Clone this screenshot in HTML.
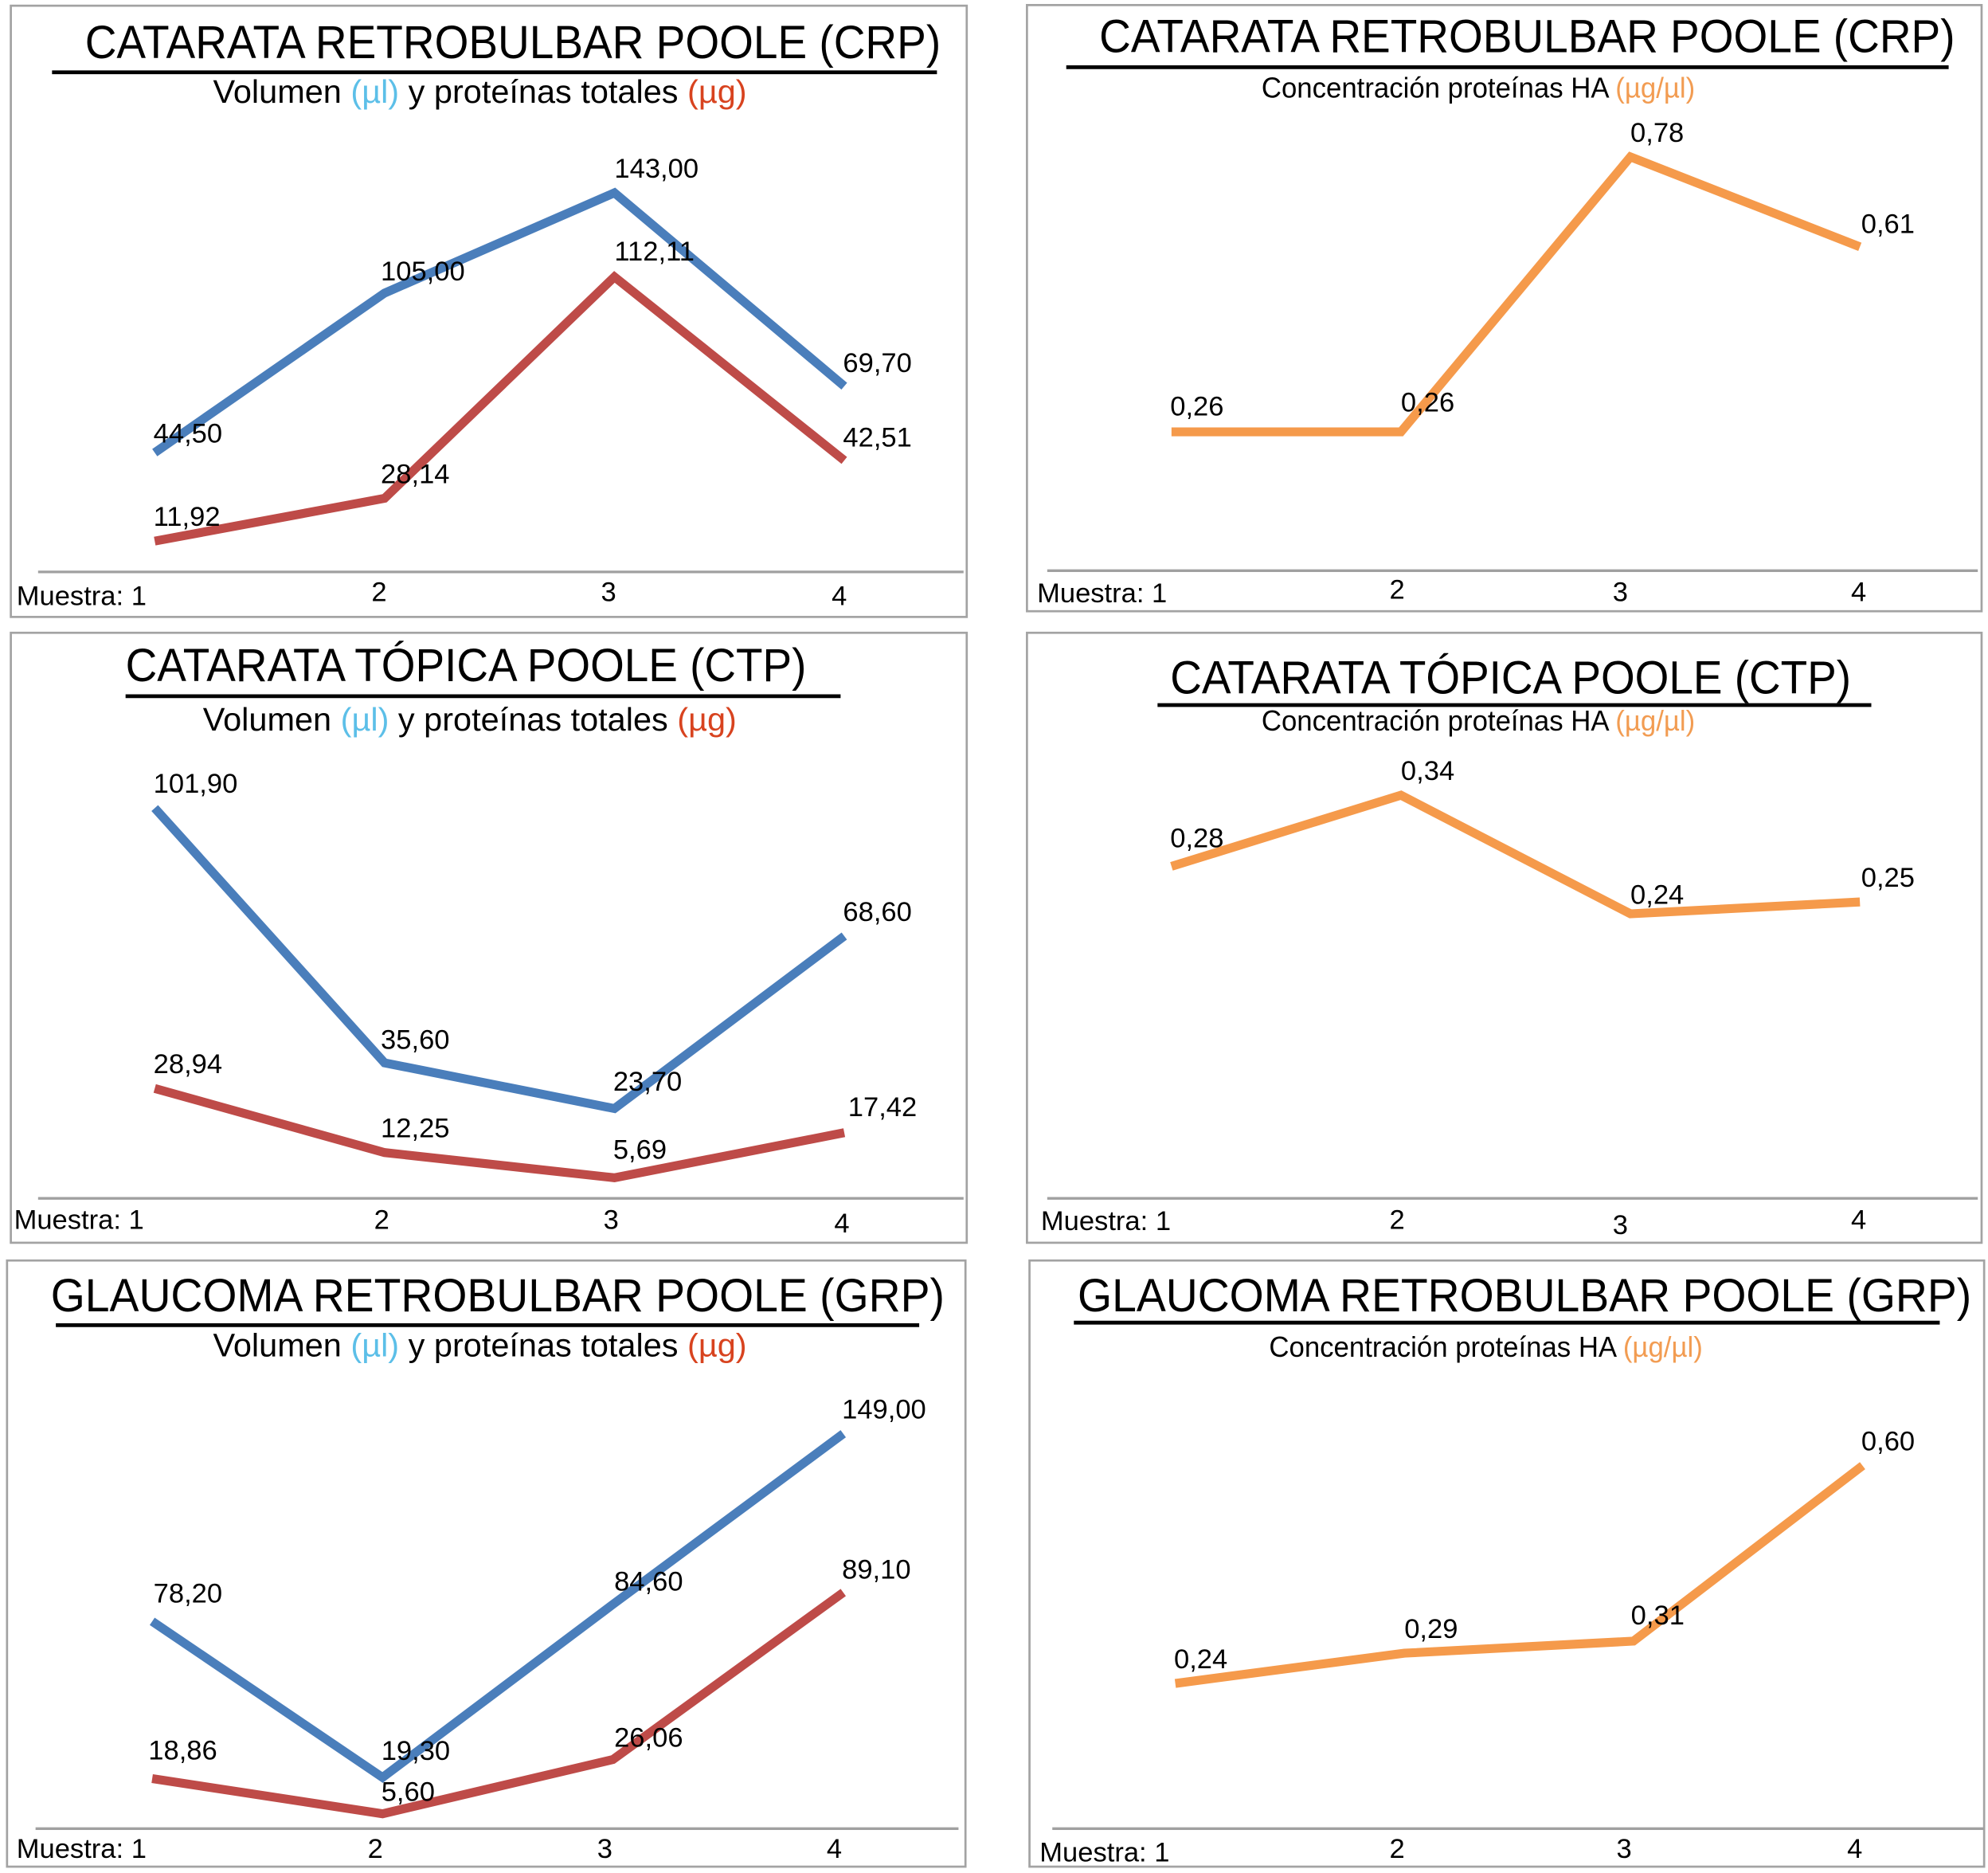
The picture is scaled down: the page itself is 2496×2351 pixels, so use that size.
<!DOCTYPE html>
<html lang="es">
<head>
<meta charset="utf-8">
<title>Volumen, proteínas totales y concentración de proteínas HA</title>
<style>
html,body{margin:0;padding:0;background:#fff;}
svg{display:block;width:2496px;height:2351px;}
text{font-family:"Liberation Sans",Arial,sans-serif;fill:#000;}
.frame{fill:#fff;stroke:#a3a3a3;stroke-width:1.7;}
.rule{stroke:#000;stroke-width:3;}
.axis{stroke:#a0a0a0;stroke-width:2.1;}
.title{font-size:36.5px;}
.sub{font-size:25.5px;}
.subc{font-size:22.5px;}
.tick,.val{font-size:21.7px;}
.cb{fill:#5cbfe8;}
.cr{fill:#d8431f;}
.co{fill:#f29c52;}
</style>
</head>
<body>
<svg id="figure" xmlns="http://www.w3.org/2000/svg" viewBox="0 0 1568 1477">

<g id="p-crp-v">
<rect class="frame" x="8.5" y="4.5" width="754" height="482"/>
<text class="title" x="67" y="46" textLength="675" lengthAdjust="spacingAndGlyphs">CATARATA RETROBULBAR POOLE (CRP)</text>
<line class="rule" x1="41" y1="57" x2="739" y2="57"/>
<text class="sub" x="168" y="81" textLength="421" lengthAdjust="spacingAndGlyphs">Volumen <tspan class="cb">(µl)</tspan> y proteínas totales <tspan class="cr">(µg)</tspan></text>
<line class="axis" x1="30" y1="451" x2="760" y2="451"/>
<text class="tick" x="13" y="477">Muestra: 1</text>
<text class="tick" x="299" y="474" text-anchor="middle">2</text>
<text class="tick" x="480" y="474" text-anchor="middle">3</text>
<text class="tick" x="662" y="477" text-anchor="middle">4</text>
</g>

<g id="p-crp-c">
<rect class="frame" x="810" y="4" width="753" height="478"/>
<text class="title" x="867" y="41" textLength="675" lengthAdjust="spacingAndGlyphs">CATARATA RETROBULBAR POOLE (CRP)</text>
<line class="rule" x1="841" y1="53" x2="1537" y2="53"/>
<text class="subc" x="995" y="77" textLength="342" lengthAdjust="spacingAndGlyphs">Concentración proteínas HA <tspan class="co">(µg/µl)</tspan></text>
<line class="axis" x1="826" y1="450" x2="1560" y2="450"/>
<text class="tick" x="818" y="475">Muestra: 1</text>
<text class="tick" x="1102" y="472" text-anchor="middle">2</text>
<text class="tick" x="1278" y="474" text-anchor="middle">3</text>
<text class="tick" x="1466" y="474" text-anchor="middle">4</text>
</g>

<g id="p-ctp-v">
<rect class="frame" x="8.5" y="499" width="754" height="481"/>
<text class="title" x="99" y="537" textLength="537" lengthAdjust="spacingAndGlyphs">CATARATA TÓPICA POOLE (CTP)</text>
<line class="rule" x1="99" y1="549" x2="663" y2="549"/>
<text class="sub" x="160" y="576" textLength="421" lengthAdjust="spacingAndGlyphs">Volumen <tspan class="cb">(µl)</tspan> y proteínas totales <tspan class="cr">(µg)</tspan></text>
<line class="axis" x1="30" y1="945" x2="760" y2="945"/>
<text class="tick" x="11" y="969">Muestra: 1</text>
<text class="tick" x="301" y="969" text-anchor="middle">2</text>
<text class="tick" x="482" y="969" text-anchor="middle">3</text>
<text class="tick" x="664" y="972" text-anchor="middle">4</text>
</g>

<g id="p-ctp-c">
<rect class="frame" x="810" y="499" width="753" height="481"/>
<text class="title" x="923" y="547" textLength="537" lengthAdjust="spacingAndGlyphs">CATARATA TÓPICA POOLE (CTP)</text>
<line class="rule" x1="913" y1="556" x2="1476" y2="556"/>
<text class="subc" x="995" y="576" textLength="342" lengthAdjust="spacingAndGlyphs">Concentración proteínas HA <tspan class="co">(µg/µl)</tspan></text>
<line class="axis" x1="826" y1="945" x2="1560" y2="945"/>
<text class="tick" x="821" y="970">Muestra: 1</text>
<text class="tick" x="1102" y="969" text-anchor="middle">2</text>
<text class="tick" x="1278" y="973" text-anchor="middle">3</text>
<text class="tick" x="1466" y="969" text-anchor="middle">4</text>
</g>

<g id="p-grp-v">
<rect class="frame" x="5.5" y="994" width="756" height="478"/>
<text class="title" x="40" y="1034" textLength="705" lengthAdjust="spacingAndGlyphs">GLAUCOMA RETROBULBAR POOLE (GRP)</text>
<line class="rule" x1="44" y1="1045" x2="725" y2="1045"/>
<text class="sub" x="168" y="1069.5" textLength="421" lengthAdjust="spacingAndGlyphs">Volumen <tspan class="cb">(µl)</tspan> y proteínas totales <tspan class="cr">(µg)</tspan></text>
<line class="axis" x1="28" y1="1442" x2="756" y2="1442"/>
<text class="tick" x="13" y="1465">Muestra: 1</text>
<text class="tick" x="296" y="1465" text-anchor="middle">2</text>
<text class="tick" x="477" y="1465" text-anchor="middle">3</text>
<text class="tick" x="658" y="1465" text-anchor="middle">4</text>
</g>

<g id="p-grp-c">
<rect class="frame" x="812" y="994" width="753" height="478"/>
<text class="title" x="850" y="1034" textLength="705" lengthAdjust="spacingAndGlyphs">GLAUCOMA RETROBULBAR POOLE (GRP)</text>
<line class="rule" x1="847" y1="1043" x2="1530" y2="1043"/>
<text class="subc" x="1001" y="1070" textLength="342" lengthAdjust="spacingAndGlyphs">Concentración proteínas HA <tspan class="co">(µg/µl)</tspan></text>
<line class="axis" x1="830" y1="1442" x2="1565" y2="1442"/>
<text class="tick" x="820" y="1468">Muestra: 1</text>
<text class="tick" x="1102" y="1465" text-anchor="middle">2</text>
<text class="tick" x="1281" y="1465" text-anchor="middle">3</text>
<text class="tick" x="1463" y="1465" text-anchor="middle">4</text>
</g>
</svg>

<script>
const samples = [1, 2, 3, 4];
const crpVolume = [44.50, 105.00, 143.00, 69.70];
const crpProtein = [11.92, 28.14, 112.11, 42.51];
const crpConcentration = [0.26, 0.26, 0.78, 0.61];
const ctpVolume = [101.90, 35.60, 23.70, 68.60];
const ctpProtein = [28.94, 12.25, 5.69, 17.42];
const ctpConcentration = [0.28, 0.34, 0.24, 0.25];
const grpVolume = [78.20, 19.30, 84.60, 149.00];
const grpProtein = [18.86, 5.60, 26.06, 89.10];
const grpConcentration = [0.24, 0.29, 0.31, 0.60];

const BLUE = '#4a7ebb', RED = '#be4b48', ORANGE = '#f59a4b';
const NS = 'http://www.w3.org/2000/svg';

function makeX(x0, step) { return function (i) { return x0 + step * i; }; }
function makeY(zero, pxPerUnit) { return function (v) { return zero - v * pxPerUnit; }; }
function fmt(v) { return v.toFixed(2).replace('.', ','); }

function drawSeries(panelId, seriesName, values, colour, xAxis, yAxis, labelDx, labelDy) {
  const panel = document.getElementById(panelId);
  const line = document.createElementNS(NS, 'polyline');
  
  
  line.setAttribute('points', values.map(function (v, i) { return xAxis(i) + ',' + yAxis(v); }).join(' '));
  line.setAttribute('fill', 'none');
  line.setAttribute('stroke', colour);
  line.setAttribute('stroke-width', '7');
  line.setAttribute('stroke-linejoin', 'miter');
  panel.appendChild(line);
  values.forEach(function (v, i) {
    const t = document.createElementNS(NS, 'text');
    
    
    t.setAttribute('class', 'val');
    t.setAttribute('x', xAxis(i) + labelDx[i]);
    t.setAttribute('y', yAxis(v) + labelDy[i]);
    t.textContent = fmt(v);
    panel.appendChild(t);
  });
}

const xLeft = makeX(122, 181.3), xRight = makeX(924, 181);
const xLeftG = makeX(120, 181.7), xRightG = makeX(927, 180.7);

drawSeries('p-crp-v', 'crp-volume', crpVolume, BLUE, xLeft, makeY(449.5, 2.08), [-1, -3, 0, -1], [-8, -10, -12, -11]);
drawSeries('p-crp-v', 'crp-protein', crpProtein, RED, xLeft, makeY(451.5, 2.08), [-1, -3, 0, -1], [-12, -12, -13, -11]);
drawSeries('p-crp-c', 'crp-concentration', crpConcentration, ORANGE, xRight, makeY(449, 417), [-1, 0, 0, 1], [-13, -16, -12, -11]);
drawSeries('p-ctp-v', 'ctp-volume', ctpVolume, BLUE, xLeft, makeY(946, 3.03), [-1, -3, -1, -1], [-12, -11, -14, -12]);
drawSeries('p-ctp-v', 'ctp-protein', ctpProtein, RED, xLeft, makeY(946, 3.03), [-1, -3, -1, 3], [-12, -12, -15, -13]);
drawSeries('p-ctp-c', 'ctp-concentration', ctpConcentration, ORANGE, xRight, makeY(945, 935), [-1, 0, 0, 1], [-15, -12, -8, -12]);
drawSeries('p-grp-v', 'grp-volume', grpVolume, BLUE, xLeftG, makeY(1442, 2.09), [1, -1, 1, -1], [-15, -14, -11, -12]);
drawSeries('p-grp-v', 'grp-protein', grpProtein, RED, xLeftG, makeY(1442, 2.09), [-3, -1, 1, -1], [-15, -10, -10, -11]);
drawSeries('p-grp-c', 'grp-concentration', grpConcentration, ORANGE, xRightG, makeY(1442, 477), [-1, 0, -2, -1], [-12, -12, -13, -12]);
</script>
</body>
</html>
